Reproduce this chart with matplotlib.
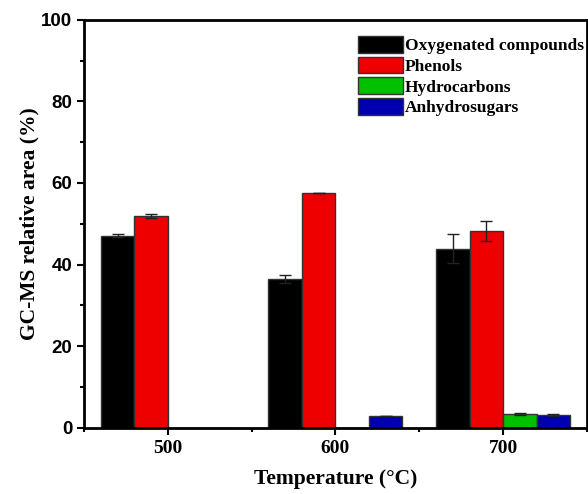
import matplotlib
matplotlib.use("Agg")
import matplotlib.pyplot as plt
from matplotlib.ticker import MultipleLocator
import numpy as np

temperatures = [500, 600, 700]
series_names = ["Oxygenated compounds", "Phenols", "Hydrocarbons", "Anhydrosugars"]
series_colors = ["#000000", "#ee0000", "#00c000", "#0000b0"]

oxygenated = [47.1, 36.4, 43.9]
oxygenated_err = [0.4, 1.0, 3.5]
phenols = [51.8, 57.6, 48.2]
phenols_err = [0.5, 0.0, 2.4]
hydrocarbons = [0.0, 0.0, 3.35]
hydrocarbons_err = [0.0, 0.0, 0.2]
anhydrosugars = [0.0, 2.8, 3.2]
anhydrosugars_err = [0.0, 0.0, 0.3]

values = [oxygenated, phenols, hydrocarbons, anhydrosugars]
errors = [oxygenated_err, phenols_err, hydrocarbons_err, anhydrosugars_err]

fig = plt.figure(figsize=(5.88, 4.94), dpi=100)
ax = fig.add_axes([0.143, 0.134, 0.855, 0.826])

bar_w = 20
offsets = [-40, -20, 0, 20]
x = np.array(temperatures, dtype=float)
for vals, errs, name, color, off in zip(values, errors, series_names, series_colors, offsets):
    v = np.array(vals)
    e = np.array(errs)
    ax.bar(x + off, v, width=bar_w, align="edge", color=color,
           edgecolor="#333333", linewidth=1.0, label=name, zorder=2)
    mask = v > 0
    ax.errorbar(x[mask] + off + bar_w / 2, v[mask], yerr=e[mask], fmt="none",
                ecolor="#222222", elinewidth=1.0, capsize=4, capthick=1.0, zorder=3)

ax.set_xlim(450, 750)
ax.set_ylim(0, 100)
ax.set_xticks(temperatures)
ax.xaxis.set_minor_locator(MultipleLocator(50))
ax.yaxis.set_major_locator(MultipleLocator(20))
ax.yaxis.set_minor_locator(MultipleLocator(10))
ax.tick_params(which="both", direction="out", width=1.5, top=False, right=False)
ax.tick_params(which="major", length=5)
ax.tick_params(which="minor", length=3)

for s in ax.spines.values():
    s.set_linewidth(2.0)

for lab in ax.get_yticklabels():
    lab.set_fontfamily("Liberation Sans")
    lab.set_fontweight("bold")
    lab.set_fontsize(13.5)
for lab in ax.get_xticklabels():
    lab.set_fontfamily("Liberation Serif")
    lab.set_fontweight("bold")
    lab.set_fontsize(14)

ax.set_xlabel("Temperature (°C)", fontfamily="Liberation Serif", fontweight="bold",
              fontsize=15.5, labelpad=9)
ax.set_ylabel("GC-MS relative area (%)", fontfamily="Liberation Serif", fontweight="bold",
              fontsize=15.5, labelpad=1.5)

ax.legend(loc="upper left", bbox_to_anchor=(0.545, 0.96), frameon=False,
          prop={"family": "Liberation Serif", "weight": "bold", "size": 12.5},
          handlelength=2.6, handleheight=1.1, labelspacing=0.14,
          handletextpad=0.1, borderaxespad=0.0, borderpad=0.0)

fig.savefig("out.png", dpi=100)
